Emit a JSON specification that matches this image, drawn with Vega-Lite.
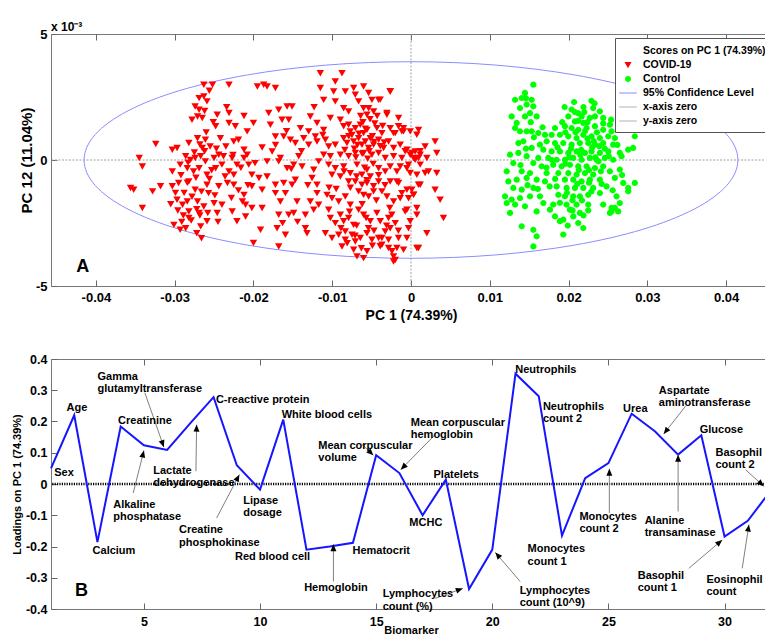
{
"$schema":"https://vega.github.io/schema/vega-lite/v6.json",
"background":"white",
"padding":{"left":10,"top":20,"right":0,"bottom":0},
"spacing":29,
"config":{
 "font":"Liberation Sans",
 "view":{"stroke":"#777","strokeWidth":1},
 "axis":{"labelFont":"Liberation Sans","titleFont":"Liberation Sans","labelFontWeight":"bold","titleFontWeight":"bold","labelColor":"#000","titleColor":"#000","domain":false,"grid":false,"tickColor":"#666","tickWidth":1,"tickSize":-6,"labelOverlap":false,"labelFlush":false,"labelBound":false}
},
"vconcat":[
{
 "width":720,"height":252,
 "title":{"text":"x 10⁻³","anchor":"start","frame":"group","fontSize":12,"fontWeight":"bold","font":"Liberation Sans","color":"#000","offset":-6},
 "data":{"values":[
{"g":"COVID-19","x":-0.0263,"y":2.99},{"g":"COVID-19","x":-0.0252,"y":2.99},{"g":"COVID-19","x":-0.0231,"y":2.99},{"g":"COVID-19","x":-0.0195,"y":2.92},{"g":"COVID-19","x":-0.0187,"y":2.99},{"g":"COVID-19","x":-0.0269,"y":2.46},{"g":"COVID-19","x":-0.0263,"y":2.53},{"g":"COVID-19","x":-0.0259,"y":2.33},{"g":"COVID-19","x":-0.0274,"y":2.13},{"g":"COVID-19","x":-0.0269,"y":2.0},
{"g":"COVID-19","x":-0.0278,"y":1.6},{"g":"COVID-19","x":-0.0271,"y":1.73},{"g":"COVID-19","x":-0.0265,"y":1.67},{"g":"COVID-19","x":-0.0246,"y":1.8},{"g":"COVID-19","x":-0.0231,"y":1.87},{"g":"COVID-19","x":-0.0248,"y":1.34},{"g":"COVID-19","x":-0.0231,"y":1.47},{"g":"COVID-19","x":-0.0223,"y":1.34},{"g":"COVID-19","x":-0.0208,"y":1.14},{"g":"COVID-19","x":-0.02,"y":1.47},
{"g":"COVID-19","x":-0.0324,"y":0.64},{"g":"COVID-19","x":-0.0303,"y":0.41},{"g":"COVID-19","x":-0.0297,"y":0.48},{"g":"COVID-19","x":-0.0282,"y":0.68},{"g":"COVID-19","x":-0.0271,"y":0.87},{"g":"COVID-19","x":-0.0261,"y":0.81},{"g":"COVID-19","x":-0.0265,"y":0.48},{"g":"COVID-19","x":-0.0255,"y":0.54},{"g":"COVID-19","x":-0.0242,"y":0.87},{"g":"COVID-19","x":-0.0235,"y":0.54},
{"g":"COVID-19","x":-0.0225,"y":0.74},{"g":"COVID-19","x":-0.0219,"y":0.81},{"g":"COVID-19","x":-0.0212,"y":0.41},{"g":"COVID-19","x":-0.0208,"y":0.21},{"g":"COVID-19","x":-0.0345,"y":0.08},{"g":"COVID-19","x":-0.0341,"y":-0.25},{"g":"COVID-19","x":-0.0286,"y":0.15},{"g":"COVID-19","x":-0.028,"y":0.01},{"g":"COVID-19","x":-0.0274,"y":0.08},{"g":"COVID-19","x":-0.0267,"y":0.15},
{"g":"COVID-19","x":-0.0261,"y":-0.05},{"g":"COVID-19","x":-0.025,"y":0.08},{"g":"COVID-19","x":-0.0244,"y":0.21},{"g":"COVID-19","x":-0.0238,"y":0.15},{"g":"COVID-19","x":-0.0227,"y":0.08},{"g":"COVID-19","x":-0.0221,"y":-0.18},{"g":"COVID-19","x":-0.0212,"y":0.08},{"g":"COVID-19","x":-0.0206,"y":-0.18},{"g":"COVID-19","x":-0.0198,"y":-0.12},{"g":"COVID-19","x":-0.0303,"y":-0.45},
{"g":"COVID-19","x":-0.0293,"y":-0.18},{"g":"COVID-19","x":-0.0284,"y":-0.32},{"g":"COVID-19","x":-0.0276,"y":-0.45},{"g":"COVID-19","x":-0.0269,"y":-0.32},{"g":"COVID-19","x":-0.0259,"y":-0.58},{"g":"COVID-19","x":-0.0248,"y":-0.32},{"g":"COVID-19","x":-0.024,"y":-0.18},{"g":"COVID-19","x":-0.0231,"y":-0.45},{"g":"COVID-19","x":-0.0225,"y":-0.58},{"g":"COVID-19","x":-0.0202,"y":-0.58},
{"g":"COVID-19","x":-0.0193,"y":-0.71},{"g":"COVID-19","x":-0.0356,"y":-1.11},{"g":"COVID-19","x":-0.0352,"y":-1.18},{"g":"COVID-19","x":-0.0328,"y":-1.24},{"g":"COVID-19","x":-0.0318,"y":-1.04},{"g":"COVID-19","x":-0.0303,"y":-1.04},{"g":"COVID-19","x":-0.0295,"y":-0.91},{"g":"COVID-19","x":-0.0282,"y":-0.85},{"g":"COVID-19","x":-0.0274,"y":-1.18},{"g":"COVID-19","x":-0.0259,"y":-0.98},
{"g":"COVID-19","x":-0.0257,"y":-1.31},{"g":"COVID-19","x":-0.0244,"y":-1.04},{"g":"COVID-19","x":-0.0233,"y":-0.91},{"g":"COVID-19","x":-0.0225,"y":-0.98},{"g":"COVID-19","x":-0.0212,"y":-1.38},{"g":"COVID-19","x":-0.0202,"y":-1.04},{"g":"COVID-19","x":-0.0189,"y":-1.18},{"g":"COVID-19","x":-0.0341,"y":-1.9},{"g":"COVID-19","x":-0.0297,"y":-1.57},{"g":"COVID-19","x":-0.029,"y":-1.77},
{"g":"COVID-19","x":-0.0284,"y":-1.64},{"g":"COVID-19","x":-0.0282,"y":-2.04},{"g":"COVID-19","x":-0.0271,"y":-1.64},{"g":"COVID-19","x":-0.0263,"y":-1.84},{"g":"COVID-19","x":-0.025,"y":-1.71},{"g":"COVID-19","x":-0.024,"y":-1.77},{"g":"COVID-19","x":-0.0227,"y":-2.04},{"g":"COVID-19","x":-0.0214,"y":-1.64},{"g":"COVID-19","x":-0.021,"y":-1.77},{"g":"COVID-19","x":-0.0202,"y":-1.9},
{"g":"COVID-19","x":-0.0189,"y":-1.9},{"g":"COVID-19","x":-0.0301,"y":-2.57},{"g":"COVID-19","x":-0.0293,"y":-2.76},{"g":"COVID-19","x":-0.0282,"y":-2.3},{"g":"COVID-19","x":-0.0269,"y":-2.1},{"g":"COVID-19","x":-0.0267,"y":-2.63},{"g":"COVID-19","x":-0.0259,"y":-2.43},{"g":"COVID-19","x":-0.0246,"y":-2.1},{"g":"COVID-19","x":-0.0221,"y":-2.43},{"g":"COVID-19","x":-0.021,"y":-2.24},
{"g":"COVID-19","x":-0.0191,"y":-2.76},{"g":"COVID-19","x":-0.02,"y":-3.29},{"g":"COVID-19","x":-0.0288,"y":-1.3},{"g":"COVID-19","x":-0.0279,"y":-2.4},{"g":"COVID-19","x":-0.0286,"y":-2.7},{"g":"COVID-19","x":-0.0272,"y":-2.9},{"g":"COVID-19","x":-0.0268,"y":-2.2},{"g":"COVID-19","x":-0.0292,"y":-0.6},{"g":"COVID-19","x":-0.0275,"y":0.3},{"g":"COVID-19","x":-0.0262,"y":0.35},
{"g":"COVID-19","x":-0.0253,"y":-0.4},{"g":"COVID-19","x":-0.0249,"y":-1.4},{"g":"COVID-19","x":-0.0289,"y":-2.2},{"g":"COVID-19","x":-0.0266,"y":-3.1},{"g":"COVID-19","x":-0.0299,"y":-1.3},{"g":"COVID-19","x":-0.0273,"y":-0.7},{"g":"COVID-19","x":-0.026,"y":1.1},{"g":"COVID-19","x":-0.0251,"y":1.5},{"g":"COVID-19","x":-0.0234,"y":2.1},{"g":"COVID-19","x":-0.0226,"y":0.2},
{"g":"COVID-19","x":-0.0216,"y":-0.3},{"g":"COVID-19","x":-0.0207,"y":-1.0},
{"g":"COVID-19","x":-0.01151,"y":3.45},{"g":"COVID-19","x":-0.00876,"y":3.45},{"g":"COVID-19","x":-0.00961,"y":3.12},{"g":"COVID-19","x":-0.01151,"y":2.86},{"g":"COVID-19","x":-0.00982,"y":2.72},{"g":"COVID-19","x":-0.01109,"y":2.39},{"g":"COVID-19","x":-0.00961,"y":2.33},{"g":"COVID-19","x":-0.00834,"y":2.72},{"g":"COVID-19","x":-0.00728,"y":2.86},{"g":"COVID-19","x":-0.00602,"y":2.92},
{"g":"COVID-19","x":-0.00707,"y":2.59},{"g":"COVID-19","x":-0.00538,"y":2.66},{"g":"COVID-19","x":-0.00496,"y":2.39},{"g":"COVID-19","x":-0.00411,"y":2.39},{"g":"COVID-19","x":-0.00264,"y":2.72},{"g":"COVID-19","x":-0.00665,"y":2.33},{"g":"COVID-19","x":-0.00855,"y":2.06},{"g":"COVID-19","x":-0.00792,"y":1.93},{"g":"COVID-19","x":-0.00602,"y":2.06},{"g":"COVID-19","x":-0.00538,"y":2.06},
{"g":"COVID-19","x":-0.00559,"y":1.8},{"g":"COVID-19","x":-0.00475,"y":1.93},{"g":"COVID-19","x":-0.00306,"y":1.87},{"g":"COVID-19","x":-0.00158,"y":1.67},{"g":"COVID-19","x":-0.00095,"y":1.27},{"g":"COVID-19","x":0.00096,"y":1.2},
{"g":"COVID-19","x":-0.01827,"y":2.92},{"g":"COVID-19","x":-0.01721,"y":2.86},{"g":"COVID-19","x":-0.01806,"y":1.87},{"g":"COVID-19","x":-0.01679,"y":2.0},{"g":"COVID-19","x":-0.01573,"y":2.13},{"g":"COVID-19","x":-0.0151,"y":2.13},{"g":"COVID-19","x":-0.01637,"y":1.6},{"g":"COVID-19","x":-0.01785,"y":1.4},{"g":"COVID-19","x":-0.01721,"y":0.94},{"g":"COVID-19","x":-0.01552,"y":1.6},
{"g":"COVID-19","x":-0.01404,"y":1.27},{"g":"COVID-19","x":-0.01299,"y":1.14},{"g":"COVID-19","x":-0.01278,"y":1.73},{"g":"COVID-19","x":-0.01193,"y":1.47},{"g":"COVID-19","x":-0.01214,"y":0.94},{"g":"COVID-19","x":-0.01109,"y":1.2},{"g":"COVID-19","x":-0.01024,"y":1.67},{"g":"COVID-19","x":-0.00897,"y":1.6},{"g":"COVID-19","x":-0.00855,"y":1.34},{"g":"COVID-19","x":-0.00792,"y":1.4},
{"g":"COVID-19","x":-0.00771,"y":1.14},{"g":"COVID-19","x":-0.00707,"y":1.27},{"g":"COVID-19","x":-0.00644,"y":1.4},{"g":"COVID-19","x":-0.00602,"y":1.07},{"g":"COVID-19","x":-0.00559,"y":1.2},{"g":"COVID-19","x":-0.00517,"y":0.87},{"g":"COVID-19","x":-0.00433,"y":1.27},{"g":"COVID-19","x":-0.00369,"y":1.07},{"g":"COVID-19","x":-0.00264,"y":1.27},{"g":"COVID-19","x":-0.002,"y":1.07},
{"g":"COVID-19","x":-0.00116,"y":1.14},{"g":"COVID-19","x":-0.0001,"y":1.14},
{"g":"COVID-19","x":-0.01616,"y":0.94},{"g":"COVID-19","x":-0.01531,"y":0.81},{"g":"COVID-19","x":-0.01468,"y":0.68},{"g":"COVID-19","x":-0.01362,"y":0.87},{"g":"COVID-19","x":-0.01299,"y":0.61},{"g":"COVID-19","x":-0.01193,"y":0.74},{"g":"COVID-19","x":-0.01087,"y":0.81},{"g":"COVID-19","x":-0.01045,"y":0.54},{"g":"COVID-19","x":-0.00961,"y":0.61},{"g":"COVID-19","x":-0.00855,"y":0.87},
{"g":"COVID-19","x":-0.00813,"y":0.68},{"g":"COVID-19","x":-0.00728,"y":0.74},{"g":"COVID-19","x":-0.00665,"y":0.87},{"g":"COVID-19","x":-0.00623,"y":0.61},{"g":"COVID-19","x":-0.0058,"y":0.74},{"g":"COVID-19","x":-0.00538,"y":0.48},{"g":"COVID-19","x":-0.00475,"y":0.61},{"g":"COVID-19","x":-0.00411,"y":0.81},{"g":"COVID-19","x":-0.00348,"y":0.48},{"g":"COVID-19","x":-0.00285,"y":0.74},
{"g":"COVID-19","x":-0.00221,"y":0.48},{"g":"COVID-19","x":-0.00137,"y":0.61},{"g":"COVID-19","x":-0.00052,"y":0.41},{"g":"COVID-19","x":0.00053,"y":0.34},{"g":"COVID-19","x":0.00117,"y":0.21},{"g":"COVID-19","x":-0.0001,"y":0.21},{"g":"COVID-19","x":-0.01763,"y":0.34},{"g":"COVID-19","x":-0.01658,"y":0.08},{"g":"COVID-19","x":-0.01425,"y":0.15},{"g":"COVID-19","x":-0.01109,"y":0.21},
{"g":"COVID-19","x":-0.01024,"y":0.15},{"g":"COVID-19","x":-0.00897,"y":0.21},{"g":"COVID-19","x":-0.00792,"y":0.15},{"g":"COVID-19","x":-0.00707,"y":0.28},{"g":"COVID-19","x":-0.00602,"y":0.28},{"g":"COVID-19","x":-0.00496,"y":0.21},{"g":"COVID-19","x":-0.00411,"y":0.28},{"g":"COVID-19","x":-0.00327,"y":0.08},{"g":"COVID-19","x":-0.00221,"y":0.15},{"g":"COVID-19","x":-0.00116,"y":0.08},
{"g":"COVID-19","x":0.00032,"y":0.08},{"g":"COVID-19","x":0.00117,"y":-0.18},
{"g":"COVID-19","x":-0.01827,"y":-0.05},{"g":"COVID-19","x":-0.01679,"y":-0.05},{"g":"COVID-19","x":-0.01573,"y":-0.32},{"g":"COVID-19","x":-0.01489,"y":-0.18},{"g":"COVID-19","x":-0.01383,"y":-0.25},{"g":"COVID-19","x":-0.01235,"y":-0.38},{"g":"COVID-19","x":-0.01172,"y":-0.05},{"g":"COVID-19","x":-0.01045,"y":-0.18},{"g":"COVID-19","x":-0.00961,"y":-0.32},{"g":"COVID-19","x":-0.00855,"y":-0.25},
{"g":"COVID-19","x":-0.00771,"y":-0.52},{"g":"COVID-19","x":-0.00686,"y":-0.18},{"g":"COVID-19","x":-0.00623,"y":-0.58},{"g":"COVID-19","x":-0.00559,"y":-0.38},{"g":"COVID-19","x":-0.00517,"y":-0.65},{"g":"COVID-19","x":-0.00411,"y":-0.32},{"g":"COVID-19","x":-0.00327,"y":-0.45},{"g":"COVID-19","x":-0.00264,"y":-0.25},{"g":"COVID-19","x":-0.00179,"y":-0.45},{"g":"COVID-19","x":-0.00052,"y":-0.32},
{"g":"COVID-19","x":0.00074,"y":-0.58},{"g":"COVID-19","x":-0.01827,"y":-0.65},{"g":"COVID-19","x":-0.01721,"y":-0.98},{"g":"COVID-19","x":-0.01616,"y":-0.91},{"g":"COVID-19","x":-0.0151,"y":-0.98},{"g":"COVID-19","x":-0.01468,"y":-0.78},{"g":"COVID-19","x":-0.01256,"y":-0.71},{"g":"COVID-19","x":-0.01193,"y":-0.98},{"g":"COVID-19","x":-0.01003,"y":-0.58},{"g":"COVID-19","x":-0.00897,"y":-0.65},
{"g":"COVID-19","x":-0.00792,"y":-0.85},{"g":"COVID-19","x":-0.00707,"y":-0.85},{"g":"COVID-19","x":-0.00623,"y":-0.98},{"g":"COVID-19","x":-0.00559,"y":-0.91},{"g":"COVID-19","x":-0.00475,"y":-1.04},{"g":"COVID-19","x":-0.00411,"y":-0.85},{"g":"COVID-19","x":-0.00264,"y":-0.85},{"g":"COVID-19","x":-0.00158,"y":-0.91},{"g":"COVID-19","x":-0.00052,"y":-1.18},{"g":"COVID-19","x":0.00032,"y":-1.38},
{"g":"COVID-19","x":0.00117,"y":-0.98},{"g":"COVID-19","x":-0.01721,"y":-1.31},{"g":"COVID-19","x":-0.01594,"y":-1.31},{"g":"COVID-19","x":-0.01447,"y":-1.64},{"g":"COVID-19","x":-0.01278,"y":-1.64},{"g":"COVID-19","x":-0.01193,"y":-1.31},{"g":"COVID-19","x":-0.01066,"y":-1.38},{"g":"COVID-19","x":-0.01003,"y":-1.51},{"g":"COVID-19","x":-0.00918,"y":-1.64},{"g":"COVID-19","x":-0.00834,"y":-1.44},
{"g":"COVID-19","x":-0.00771,"y":-1.77},{"g":"COVID-19","x":-0.00665,"y":-1.24},{"g":"COVID-19","x":-0.00602,"y":-1.38},{"g":"COVID-19","x":-0.00538,"y":-1.44},{"g":"COVID-19","x":-0.00475,"y":-1.24},{"g":"COVID-19","x":-0.00369,"y":-1.24},{"g":"COVID-19","x":-0.00306,"y":-1.44},{"g":"COVID-19","x":-0.00221,"y":-1.64},{"g":"COVID-19","x":-0.00116,"y":-1.31},{"g":"COVID-19","x":-0.00031,"y":-1.51},
{"g":"COVID-19","x":-0.01658,"y":-1.64},{"g":"COVID-19","x":-0.01679,"y":-2.17},{"g":"COVID-19","x":-0.01552,"y":-2.17},{"g":"COVID-19","x":-0.01489,"y":-2.1},{"g":"COVID-19","x":-0.01341,"y":-2.17},{"g":"COVID-19","x":-0.01235,"y":-1.97},{"g":"COVID-19","x":-0.01172,"y":-1.77},{"g":"COVID-19","x":-0.01045,"y":-1.97},{"g":"COVID-19","x":-0.01024,"y":-2.3},{"g":"COVID-19","x":-0.00961,"y":-2.5},
{"g":"COVID-19","x":-0.00897,"y":-2.17},{"g":"COVID-19","x":-0.00855,"y":-2.43},{"g":"COVID-19","x":-0.00792,"y":-2.3},{"g":"COVID-19","x":-0.00728,"y":-2.57},{"g":"COVID-19","x":-0.00665,"y":-1.97},{"g":"COVID-19","x":-0.00602,"y":-2.17},{"g":"COVID-19","x":-0.00517,"y":-2.43},{"g":"COVID-19","x":-0.00433,"y":-2.1},{"g":"COVID-19","x":-0.0039,"y":-2.43},{"g":"COVID-19","x":-0.00285,"y":-2.3},
{"g":"COVID-19","x":-0.002,"y":-2.5},{"g":"COVID-19","x":-0.00052,"y":-1.97},{"g":"COVID-19","x":-0.0001,"y":-2.43},{"g":"COVID-19","x":0.00074,"y":-2.17},
{"g":"COVID-19","x":-0.017,"y":-2.7},{"g":"COVID-19","x":-0.01341,"y":-2.7},{"g":"COVID-19","x":-0.0132,"y":-2.9},{"g":"COVID-19","x":-0.01087,"y":-2.9},{"g":"COVID-19","x":-0.01003,"y":-3.09},{"g":"COVID-19","x":-0.00918,"y":-2.96},{"g":"COVID-19","x":-0.00834,"y":-3.16},{"g":"COVID-19","x":-0.00749,"y":-2.96},{"g":"COVID-19","x":-0.00707,"y":-3.23},{"g":"COVID-19","x":-0.00644,"y":-3.09},
{"g":"COVID-19","x":-0.00559,"y":-2.9},{"g":"COVID-19","x":-0.00496,"y":-3.16},{"g":"COVID-19","x":-0.00411,"y":-3.09},{"g":"COVID-19","x":-0.00369,"y":-3.36},{"g":"COVID-19","x":-0.00285,"y":-3.16},{"g":"COVID-19","x":-0.00242,"y":-3.62},{"g":"COVID-19","x":-0.00179,"y":-3.49},{"g":"COVID-19","x":-0.00095,"y":-3.56},{"g":"COVID-19","x":0.00074,"y":-3.49},{"g":"COVID-19","x":-0.00686,"y":-3.82},
{"g":"COVID-19","x":-0.00602,"y":-3.89},{"g":"COVID-19","x":-0.002,"y":-3.96},{"g":"COVID-19","x":-0.00876,"y":-3.43},{"g":"COVID-19","x":-0.00728,"y":-3.56},{"g":"COVID-19","x":-0.00559,"y":-3.62},{"g":"COVID-19","x":-0.01594,"y":-2.96},{"g":"COVID-19","x":-0.01679,"y":-3.43},{"g":"COVID-19","x":-0.00052,"y":-3.09},{"g":"COVID-19","x":-0.00834,"y":-2.83},
{"g":"COVID-19","x":-0.00264,"y":2.73},{"g":"COVID-19","x":-0.00391,"y":2.4},{"g":"COVID-19","x":-0.00306,"y":1.8},{"g":"COVID-19","x":-0.00159,"y":1.34},{"g":"COVID-19","x":-0.00095,"y":1.14},{"g":"COVID-19","x":-0.00222,"y":1.07},{"g":"COVID-19","x":0.00074,"y":1.01},{"g":"COVID-19","x":0.00306,"y":0.74},{"g":"COVID-19","x":0.00179,"y":0.54},{"g":"COVID-19","x":-0.00074,"y":0.35},
{"g":"COVID-19","x":0.0001,"y":0.28},{"g":"COVID-19","x":0.00116,"y":0.35},{"g":"COVID-19","x":0.00327,"y":0.28},{"g":"COVID-19","x":0.00201,"y":0.08},{"g":"COVID-19","x":0.00053,"y":0.01},{"g":"COVID-19","x":-0.00032,"y":-0.18},{"g":"COVID-19","x":-0.00137,"y":-0.25},{"g":"COVID-19","x":0.00095,"y":0.08},{"g":"COVID-19","x":0.00222,"y":-0.45},{"g":"COVID-19","x":0.00179,"y":-0.51},
{"g":"COVID-19","x":0.00327,"y":-0.51},{"g":"COVID-19","x":-0.00011,"y":-0.51},{"g":"COVID-19","x":-0.0018,"y":-0.85},{"g":"COVID-19","x":0.00095,"y":-0.98},{"g":"COVID-19","x":0.00032,"y":-1.37},{"g":"COVID-19","x":0.00306,"y":-1.18},{"g":"COVID-19","x":0.0037,"y":-1.57},{"g":"COVID-19","x":0.00412,"y":-2.3},{"g":"COVID-19","x":0.00074,"y":-1.9},{"g":"COVID-19","x":-0.00074,"y":-2.04},
{"g":"COVID-19","x":-0.00243,"y":-2.17},{"g":"COVID-19","x":-0.00032,"y":-2.7},{"g":"COVID-19","x":0.00201,"y":-2.9},{"g":"COVID-19","x":0.00095,"y":-3.49},{"g":"COVID-19","x":-0.0037,"y":-3.09},{"g":"COVID-19","x":-0.00285,"y":-3.49},{"g":"COVID-19","x":-0.00222,"y":-3.82},{"g":"COVID-19","x":-0.00222,"y":-4.02},{"g":"COVID-19","x":-0.00391,"y":-3.42},{"g":"COVID-19","x":-0.00327,"y":-2.83},
{"g":"COVID-19","x":-0.00159,"y":-3.09},{"g":"COVID-19","x":-0.00264,"y":-2.7},{"g":"COVID-19","x":-0.00137,"y":-1.51},{"g":"COVID-19","x":0.0001,"y":-1.18},
{"g":"COVID-19","x":-0.0075,"y":1.0},{"g":"COVID-19","x":-0.0068,"y":0.6},{"g":"COVID-19","x":-0.0061,"y":1.5},{"g":"COVID-19","x":-0.0053,"y":0.35},{"g":"COVID-19","x":-0.0046,"y":1.45},{"g":"COVID-19","x":-0.007,"y":0.1},{"g":"COVID-19","x":-0.0059,"y":-0.3},{"g":"COVID-19","x":-0.0049,"y":0.95},{"g":"COVID-19","x":-0.0064,"y":1.75},{"g":"COVID-19","x":-0.0056,"y":-0.8},
{"g":"COVID-19","x":-0.0044,"y":-1.6},{"g":"COVID-19","x":-0.0069,"y":-2.6},{"g":"COVID-19","x":-0.0054,"y":-2.7},{"g":"COVID-19","x":-0.0081,"y":-3.3},{"g":"COVID-19","x":-0.0063,"y":-3.5},{"g":"COVID-19","x":-0.0047,"y":-2.8},{"g":"COVID-19","x":-0.0034,"y":0.7},{"g":"COVID-19","x":-0.0084,"y":0.4},{"g":"COVID-19","x":-0.0077,"y":-1.1},{"g":"COVID-19","x":-0.0031,"y":-2.6},
{"g":"COVID-19","x":-0.0058,"y":1.25},{"g":"COVID-19","x":-0.0052,"y":1.62},{"g":"COVID-19","x":-0.0047,"y":0.72},{"g":"COVID-19","x":-0.0066,"y":1.05},{"g":"COVID-19","x":-0.0072,"y":0.45},{"g":"COVID-19","x":-0.0039,"y":0.55},{"g":"COVID-19","x":-0.0043,"y":1.75},{"g":"COVID-19","x":-0.0079,"y":0.95},{"g":"COVID-19","x":-0.0055,"y":0.05},{"g":"COVID-19","x":-0.0036,"y":1.35},
{"g":"COVID-19","x":-0.0062,"y":0.25},{"g":"COVID-19","x":-0.0048,"y":-0.15},{"g":"COVID-19","x":-0.0085,"y":-0.45},{"g":"COVID-19","x":-0.0069,"y":-0.65},{"g":"COVID-19","x":-0.0041,"y":-0.6},{"g":"COVID-19","x":-0.0033,"y":-1.0},{"g":"COVID-19","x":-0.0062,"y":-1.75},{"g":"COVID-19","x":-0.0078,"y":-2.05},{"g":"COVID-19","x":-0.0057,"y":-2.3},{"g":"COVID-19","x":-0.0049,"y":-3.4},
{"g":"COVID-19","x":-0.0071,"y":-3.0},{"g":"COVID-19","x":-0.0089,"y":-2.7},{"g":"COVID-19","x":-0.0027,"y":-1.9},{"g":"COVID-19","x":-0.0016,"y":-2.8},{"g":"COVID-19","x":-0.0095,"y":-1.15},
{"g":"COVID-19","x":-0.0284,"y":-0.9},{"g":"COVID-19","x":-0.0278,"y":-1.45},{"g":"COVID-19","x":-0.0266,"y":-1.25},{"g":"COVID-19","x":-0.0256,"y":-0.75},{"g":"COVID-19","x":-0.0272,"y":-1.95},{"g":"COVID-19","x":-0.0291,"y":-2.45},{"g":"COVID-19","x":-0.0258,"y":-2.1},{"g":"COVID-19","x":-0.0245,"y":-2.45},{"g":"COVID-19","x":-0.0283,"y":-0.1},{"g":"COVID-19","x":-0.0268,"y":0.62},
{"g":"COVID-19","x":-0.0247,"y":0.45},{"g":"COVID-19","x":-0.0236,"y":-0.65},{"g":"COVID-19","x":-0.0219,"y":-1.2},{"g":"COVID-19","x":-0.0228,"y":-1.5},{"g":"COVID-19","x":-0.0296,"y":-2.0},{"g":"COVID-19","x":-0.0305,"y":-1.75},{"g":"COVID-19","x":-0.0262,"y":1.95},{"g":"COVID-19","x":-0.0256,"y":2.75},{"g":"COVID-19","x":-0.0212,"y":1.75},{"g":"COVID-19","x":-0.0189,"y":0.5},
{"g":"COVID-19","x":-0.0152,"y":-0.35},{"g":"COVID-19","x":-0.0139,"y":0.35},{"g":"COVID-19","x":-0.0131,"y":-1.0},{"g":"COVID-19","x":-0.0163,"y":-2.5},{"g":"COVID-19","x":-0.0144,"y":-2.45},{"g":"COVID-19","x":-0.0112,"y":1.0},{"g":"COVID-19","x":-0.0123,"y":2.1},{"g":"COVID-19","x":-0.0104,"y":-1.1},{"g":"COVID-19","x":-0.0172,"y":0.6},{"g":"COVID-19","x":-0.0158,"y":1.15},
{"g":"Control","x":0.01553,"y":2.99},{"g":"Control","x":0.01447,"y":2.66},{"g":"Control","x":0.01321,"y":2.39},{"g":"Control","x":0.01405,"y":2.46},{"g":"Control","x":0.01532,"y":2.39},{"g":"Control","x":0.01468,"y":2.2},{"g":"Control","x":0.01553,"y":2.13},{"g":"Control","x":0.01384,"y":2.06},{"g":"Control","x":0.01511,"y":1.86},{"g":"Control","x":0.01447,"y":1.73},
{"g":"Control","x":0.01595,"y":1.73},{"g":"Control","x":0.01278,"y":1.73},{"g":"Control","x":0.01342,"y":1.47},{"g":"Control","x":0.01321,"y":1.27},{"g":"Control","x":0.01384,"y":1.14},{"g":"Control","x":0.01468,"y":1.14},{"g":"Control","x":0.01532,"y":1.14},{"g":"Control","x":0.01616,"y":1.07},{"g":"Control","x":0.01701,"y":1.0},{"g":"Control","x":0.01426,"y":0.74},
{"g":"Control","x":0.01363,"y":0.67},{"g":"Control","x":0.02039,"y":2.0},{"g":"Control","x":0.02313,"y":2.06},{"g":"Control","x":0.02123,"y":1.86},{"g":"Control","x":0.02398,"y":1.93},{"g":"Control","x":0.01997,"y":1.73},{"g":"Control","x":0.02166,"y":1.73},{"g":"Control","x":0.02271,"y":1.67},{"g":"Control","x":0.02335,"y":1.73},{"g":"Control","x":0.0244,"y":1.67},
{"g":"Control","x":0.02081,"y":1.53},{"g":"Control","x":0.02187,"y":1.47},{"g":"Control","x":0.02525,"y":1.4},{"g":"Control","x":0.01828,"y":1.27},{"g":"Control","x":0.01954,"y":1.34},{"g":"Control","x":0.02039,"y":1.27},{"g":"Control","x":0.02123,"y":1.2},{"g":"Control","x":0.02229,"y":1.27},{"g":"Control","x":0.02335,"y":1.34},{"g":"Control","x":0.0244,"y":1.2},
{"g":"Control","x":0.02546,"y":1.14},{"g":"Control","x":0.01785,"y":1.0},{"g":"Control","x":0.01891,"y":1.0},{"g":"Control","x":0.01997,"y":0.94},{"g":"Control","x":0.02102,"y":0.87},{"g":"Control","x":0.02187,"y":1.0},{"g":"Control","x":0.02292,"y":0.94},{"g":"Control","x":0.02398,"y":0.87},{"g":"Control","x":0.02504,"y":0.94},{"g":"Control","x":0.02588,"y":0.87},
{"g":"Control","x":0.01722,"y":0.74},{"g":"Control","x":0.01828,"y":0.67},{"g":"Control","x":0.01933,"y":0.67},{"g":"Control","x":0.02039,"y":0.61},{"g":"Control","x":0.02144,"y":0.67},{"g":"Control","x":0.0225,"y":0.67},{"g":"Control","x":0.02335,"y":0.61},{"g":"Control","x":0.0244,"y":0.67},{"g":"Control","x":0.02567,"y":0.61},{"g":"Control","x":0.01637,"y":0.61},
{"g":"Control","x":0.01532,"y":0.48},{"g":"Control","x":0.02651,"y":0.28},{"g":"Control","x":0.02757,"y":0.41},{"g":"Control","x":0.0168,"y":0.41},{"g":"Control","x":0.01785,"y":0.34},{"g":"Control","x":0.01891,"y":0.34},{"g":"Control","x":0.01997,"y":0.28},{"g":"Control","x":0.02102,"y":0.34},{"g":"Control","x":0.02208,"y":0.28},{"g":"Control","x":0.02292,"y":0.34},
{"g":"Control","x":0.02398,"y":0.28},{"g":"Control","x":0.02504,"y":0.34},{"g":"Control","x":0.02673,"y":0.15},{"g":"Control","x":0.01257,"y":0.21},{"g":"Control","x":0.01363,"y":0.28},{"g":"Control","x":0.01468,"y":0.15},{"g":"Control","x":0.01616,"y":0.08},{"g":"Control","x":0.01743,"y":0.08},{"g":"Control","x":0.01849,"y":0.01},{"g":"Control","x":0.01954,"y":0.01},
{"g":"Control","x":0.0206,"y":0.08},{"g":"Control","x":0.02166,"y":0.01},{"g":"Control","x":0.02271,"y":0.08},{"g":"Control","x":0.02356,"y":0.01},{"g":"Control","x":0.02461,"y":0.08},{"g":"Control","x":0.02567,"y":0.01},{"g":"Control","x":0.01299,"y":-0.12},{"g":"Control","x":0.01553,"y":-0.12},{"g":"Control","x":0.01659,"y":-0.25},{"g":"Control","x":0.01806,"y":-0.19},
{"g":"Control","x":0.01912,"y":-0.25},{"g":"Control","x":0.02018,"y":-0.19},{"g":"Control","x":0.02123,"y":-0.25},{"g":"Control","x":0.02229,"y":-0.25},{"g":"Control","x":0.02335,"y":-0.32},{"g":"Control","x":0.0244,"y":-0.25},{"g":"Control","x":0.01215,"y":-0.45},{"g":"Control","x":0.01405,"y":-0.45},{"g":"Control","x":0.01511,"y":-0.52},{"g":"Control","x":0.01722,"y":-0.52},
{"g":"Control","x":0.0187,"y":-0.52},{"g":"Control","x":0.01997,"y":-0.52},{"g":"Control","x":0.02102,"y":-0.58},{"g":"Control","x":0.02208,"y":-0.52},{"g":"Control","x":0.02313,"y":-0.58},{"g":"Control","x":0.02525,"y":-0.45},{"g":"Control","x":0.02651,"y":-0.38},{"g":"Control","x":0.01236,"y":-0.85},{"g":"Control","x":0.01342,"y":-0.78},{"g":"Control","x":0.01468,"y":-0.71},
{"g":"Control","x":0.01595,"y":-0.78},{"g":"Control","x":0.01701,"y":-0.85},{"g":"Control","x":0.01954,"y":-0.78},{"g":"Control","x":0.0206,"y":-0.78},{"g":"Control","x":0.02166,"y":-0.85},{"g":"Control","x":0.02271,"y":-0.78},{"g":"Control","x":0.02398,"y":-0.78},{"g":"Control","x":0.02588,"y":-0.71},{"g":"Control","x":0.01299,"y":-1.11},{"g":"Control","x":0.01405,"y":-1.18},
{"g":"Control","x":0.01553,"y":-1.11},{"g":"Control","x":0.01849,"y":-1.05},{"g":"Control","x":0.01975,"y":-1.11},{"g":"Control","x":0.02081,"y":-1.11},{"g":"Control","x":0.02187,"y":-1.11},{"g":"Control","x":0.02313,"y":-1.11},{"g":"Control","x":0.02482,"y":-1.05},{"g":"Control","x":0.02694,"y":-0.91},{"g":"Control","x":0.02757,"y":-1.11},{"g":"Control","x":0.01194,"y":-1.44},
{"g":"Control","x":0.01278,"y":-1.57},{"g":"Control","x":0.01384,"y":-1.51},{"g":"Control","x":0.01511,"y":-1.44},{"g":"Control","x":0.01637,"y":-1.44},{"g":"Control","x":0.0187,"y":-1.38},{"g":"Control","x":0.01954,"y":-1.44},{"g":"Control","x":0.0206,"y":-1.44},{"g":"Control","x":0.02144,"y":-1.44},{"g":"Control","x":0.0225,"y":-1.38},{"g":"Control","x":0.02398,"y":-1.31},
{"g":"Control","x":0.02609,"y":-1.44},{"g":"Control","x":0.01215,"y":-1.71},{"g":"Control","x":0.01321,"y":-1.77},{"g":"Control","x":0.01447,"y":-1.84},{"g":"Control","x":0.0168,"y":-1.71},{"g":"Control","x":0.01806,"y":-1.77},{"g":"Control","x":0.01975,"y":-1.77},{"g":"Control","x":0.02102,"y":-1.77},{"g":"Control","x":0.0225,"y":-1.77},{"g":"Control","x":0.0244,"y":-1.77},
{"g":"Control","x":0.02651,"y":-1.71},{"g":"Control","x":0.01257,"y":-2.1},{"g":"Control","x":0.01595,"y":-2.04},{"g":"Control","x":0.01764,"y":-1.97},{"g":"Control","x":0.02018,"y":-1.97},{"g":"Control","x":0.02144,"y":-2.1},{"g":"Control","x":0.02546,"y":-1.9},{"g":"Control","x":0.0263,"y":-2.04},{"g":"Control","x":0.01828,"y":-2.24},{"g":"Control","x":0.01933,"y":-2.37},
{"g":"Control","x":0.0206,"y":-2.24},{"g":"Control","x":0.01891,"y":-2.43},{"g":"Control","x":0.01405,"y":-2.63},{"g":"Control","x":0.01553,"y":-2.77},{"g":"Control","x":0.01595,"y":-3.03},{"g":"Control","x":0.01933,"y":-2.96},{"g":"Control","x":0.02123,"y":-2.5},{"g":"Control","x":0.02187,"y":-2.7},{"g":"Control","x":0.01553,"y":-3.43},{"g":"Control","x":0.02525,"y":-2.1},
{"g":"Control","x":0.02841,"y":0.94},{"g":"Control","x":0.0282,"y":0.48},{"g":"Control","x":0.02841,"y":-0.91},{"g":"Control","x":0.02757,"y":-1.24},{"g":"Control","x":0.02545,"y":-2.04},{"g":"Control","x":0.02588,"y":-1.9},
{"g":"Control","x":0.0209,"y":1.1},{"g":"Control","x":0.0216,"y":0.4},{"g":"Control","x":0.0224,"y":1.5},{"g":"Control","x":0.023,"y":0.5},{"g":"Control","x":0.0201,"y":0.1},{"g":"Control","x":0.0213,"y":-0.4},{"g":"Control","x":0.0226,"y":-0.9},{"g":"Control","x":0.0205,"y":-1.6},{"g":"Control","x":0.0219,"y":-2.2},{"g":"Control","x":0.0192,"y":1.5},
{"g":"Control","x":0.0246,"y":0.45},{"g":"Control","x":0.0236,"y":1.1},{"g":"Control","x":0.022,"y":1.9},{"g":"Control","x":0.0196,"y":-0.15},{"g":"Control","x":0.0241,"y":-0.45},{"g":"Control","x":0.0207,"y":2.3},{"g":"Control","x":0.0229,"y":2.35},{"g":"Control","x":0.0254,"y":1.6},{"g":"Control","x":0.0176,"y":-1.05},{"g":"Control","x":0.0189,"y":-1.7},
{"g":"Control","x":0.0212,"y":1.55},{"g":"Control","x":0.0221,"y":1.15},{"g":"Control","x":0.0232,"y":0.75},{"g":"Control","x":0.0203,"y":0.45},{"g":"Control","x":0.0215,"y":0.2},{"g":"Control","x":0.0238,"y":-0.05},{"g":"Control","x":0.0226,"y":-0.4},{"g":"Control","x":0.0211,"y":-0.95},{"g":"Control","x":0.0198,"y":-1.3},{"g":"Control","x":0.0217,"y":-1.6},
{"g":"Control","x":0.0229,"y":-1.25},{"g":"Control","x":0.0242,"y":-0.95},{"g":"Control","x":0.0251,"y":0.15},{"g":"Control","x":0.0244,"y":1.45},{"g":"Control","x":0.0233,"y":2.25},{"g":"Control","x":0.0219,"y":2.1},{"g":"Control","x":0.0196,"y":1.1},{"g":"Control","x":0.0186,"y":0.5},{"g":"Control","x":0.0179,"y":0.0},{"g":"Control","x":0.0183,"y":-0.75},
{"g":"Control","x":0.0205,"y":-2.0},{"g":"Control","x":0.0199,"y":-2.6},{"g":"Control","x":0.0225,"y":-2.0},{"g":"Control","x":0.0172,"y":-0.3},{"g":"Control","x":0.0161,"y":-1.15},{"g":"Control","x":0.0148,"y":-1.0},{"g":"Control","x":0.0139,"y":-0.2},{"g":"Control","x":0.0146,"y":0.45},{"g":"Control","x":0.0156,"y":0.9},{"g":"Control","x":0.0167,"y":1.3},
{"g":"Control","x":0.0146,"y":2.45},{"g":"Control","x":0.0152,"y":1.5},{"g":"Control","x":0.0262,"y":0.6},{"g":"Control","x":0.0268,"y":-0.6},{"g":"Control","x":0.0256,"y":-1.2},{"g":"Control","x":0.0234,"y":0.1},{"g":"Control","x":0.0208,"y":1.9},{"g":"Control","x":0.0195,"y":2.1},{"g":"Control","x":0.0239,"y":0.55},{"g":"Control","x":0.0224,"y":0.85}
 ]},
 "resolve":{"axis":{"x":"independent","y":"independent"}},
 "layer":[
  {"data":{"values":[{"zero":0}]},
   "mark":{"type":"rule","color":"#a0a0a0","strokeWidth":1,"strokeDash":[2,1.5]},
   "encoding":{"y":{"field":"zero","type":"quantitative","scale":{"domain":[-5,5],"nice":false,"zero":false},
     "axis":{"orient":"left","values":[-5,0,5],"labelExpr":"(datum.value<0?'-':'')+format(abs(datum.value),'d')","labelFontSize":13,"labelPadding":10,"title":"PC 12 (11.04%)","titleFontSize":15,"titlePadding":1}}}},
  {"data":{"values":[{"zero":0}]},
   "mark":{"type":"rule","color":"#a0a0a0","strokeWidth":1,"strokeDash":[2,1.5]},
   "encoding":{"x":{"field":"zero","type":"quantitative","scale":{"domain":[-0.0457,0.0457],"nice":false,"zero":false},
     "axis":{"orient":"bottom","values":[-0.04,-0.03,-0.02,-0.01,0,0.01,0.02,0.03,0.04],"labelExpr":"datum.value==0?'0':(datum.value<0?'-':'')+format(abs(datum.value),'.2f')","labelFontSize":13,"labelPadding":11,"title":"PC 1 (74.39%)","titleFontSize":14,"titlePadding":4}}}},
  {"data":{"values":[
{"i":0,"x":0.0415,"y":0},{"i":1,"x":0.04009,"y":1.009},{"i":2,"x":0.03594,"y":1.95},{"i":3,"x":0.02935,"y":2.758},{"i":4,"x":0.02075,"y":3.377},{"i":5,"x":0.01074,"y":3.767},{"i":6,"x":0,"y":3.9},{"i":7,"x":-0.01074,"y":3.767},{"i":8,"x":-0.02075,"y":3.377},{"i":9,"x":-0.02935,"y":2.758},{"i":10,"x":-0.03594,"y":1.95},{"i":11,"x":-0.04009,"y":1.009},
{"i":12,"x":-0.0415,"y":0},{"i":13,"x":-0.04009,"y":-1.009},{"i":14,"x":-0.03594,"y":-1.95},{"i":15,"x":-0.02935,"y":-2.758},{"i":16,"x":-0.02075,"y":-3.377},{"i":17,"x":-0.01074,"y":-3.767},{"i":18,"x":0,"y":-3.9},{"i":19,"x":0.01074,"y":-3.767},{"i":20,"x":0.02075,"y":-3.377},{"i":21,"x":0.02935,"y":-2.758},{"i":22,"x":0.03594,"y":-1.95},{"i":23,"x":0.04009,"y":-1.009}
   ]},
   "mark":{"type":"line","interpolate":"cardinal-closed","color":"#8c8cff","strokeWidth":1},
   "encoding":{
    "x":{"field":"x","type":"quantitative","scale":{"domain":[-0.0457,0.0457],"nice":false,"zero":false},"axis":{"orient":"top","values":[-0.04,-0.03,-0.02,-0.01,0,0.01,0.02,0.03,0.04],"labels":false,"title":null}},
    "y":{"field":"y","type":"quantitative","scale":{"domain":[-5,5],"nice":false,"zero":false},"axis":{"orient":"right","values":[-5,0,5],"labels":false,"title":null}},
    "order":{"field":"i","type":"quantitative"}}},
  {"mark":{"type":"point","filled":true,"opacity":1,"strokeWidth":1,"size":220},
   "encoding":{
    "x":{"field":"x","type":"quantitative","scale":{"domain":[-0.0457,0.0457],"nice":false,"zero":false},"axis":null},
    "y":{"field":"y","type":"quantitative","scale":{"domain":[-5,5],"nice":false,"zero":false},"axis":null},
    "color":{"field":"g","type":"nominal",
      "scale":{"domain":["Scores on PC 1 (74.39%)","COVID-19","Control","95% Confidence Level","x-axis zero","y-axis zero"],"range":["transparent","#ff0000","#00ff00","transparent","transparent","transparent"]},
      "legend":{"orient":"none","legendX":564,"legendY":4,"title":null,"fillColor":"#ffffff","strokeColor":"#555555","padding":5,"labelFont":"Liberation Sans","labelFontSize":10.5,"labelFontWeight":"bold","labelColor":"#000","labelLimit":400,"labelOffset":7,"symbolSize":200,"symbolStrokeWidth":1,"symbolOpacity":1,"rowPadding":0}},
    "stroke":{"field":"g","type":"nominal",
      "scale":{"domain":["Scores on PC 1 (74.39%)","COVID-19","Control","95% Confidence Level","x-axis zero","y-axis zero"],"range":["transparent","transparent","transparent","#8c8cff","#b0b0b0","#b0b0b0"]},
      "legend":{"orient":"none","legendX":564,"legendY":4,"title":null,"fillColor":"#ffffff","strokeColor":"#555555","padding":5,"labelFont":"Liberation Sans","labelFontSize":10.5,"labelFontWeight":"bold","labelColor":"#000","labelLimit":400,"labelOffset":7,"symbolSize":200,"symbolStrokeWidth":1,"symbolOpacity":1,"rowPadding":0}},
    "shape":{"field":"g","type":"nominal",
      "scale":{"domain":["Scores on PC 1 (74.39%)","COVID-19","Control","95% Confidence Level","x-axis zero","y-axis zero"],"range":["M0,0","M-0.5,-0.42L0.5,-0.42L0,0.45Z","M-0.42,0A0.42,0.42,0,1,0,0.42,0A0.42,0.42,0,1,0,-0.42,0Z","M-1.25,0L1.25,0","M-1.25,0L1.25,0","M-1.25,0L1.25,0"]},
      "legend":{"orient":"none","legendX":564,"legendY":4,"title":null,"fillColor":"#ffffff","strokeColor":"#555555","padding":5,"labelFont":"Liberation Sans","labelFontSize":10.5,"labelFontWeight":"bold","labelColor":"#000","labelLimit":400,"labelOffset":7,"symbolSize":200,"symbolStrokeWidth":1,"symbolOpacity":1,"rowPadding":0}}}},
  {"data":{"values":[{"lab":"A","x":-0.0425,"y":-4.25}]},
   "mark":{"type":"text","align":"left","baseline":"middle","font":"Liberation Sans","fontWeight":"bold","fontSize":18,"color":"#000"},
   "encoding":{
    "x":{"field":"x","type":"quantitative","scale":{"domain":[-0.0457,0.0457],"nice":false,"zero":false},"axis":null},
    "y":{"field":"y","type":"quantitative","scale":{"domain":[-5,5],"nice":false,"zero":false},"axis":null},
    "text":{"field":"lab"}}}
 ]
},
{
 "width":720,"height":250,
 "resolve":{"axis":{"x":"independent","y":"independent"}},
 "layer":[
  {"data":{"values":[{"zero":0}]},
   "mark":{"type":"rule","color":"#000","strokeWidth":2.5,"strokeDash":[1.2,1.2]},
   "encoding":{"y":{"field":"zero","type":"quantitative","scale":{"domain":[-0.4,0.4],"nice":false,"zero":false},
     "axis":{"orient":"left","values":[-0.4,-0.3,-0.2,-0.1,0,0.1,0.2,0.3,0.4],"labelExpr":"datum.value==0?'0':(datum.value<0?'-':'')+format(abs(datum.value),'.1f')","labelFontSize":12.5,"labelPadding":10,"title":"Loadings on PC 1 (74.39%)","titleFontSize":11,"titlePadding":3}}}},
  {"data":{"values":[
{"b":1,"v":0.05},{"b":2,"v":0.22},{"b":3,"v":-0.186},{"b":4,"v":0.184},{"b":5,"v":0.124},{"b":6,"v":0.109},{"b":7,"v":0.195},{"b":8,"v":0.278},{"b":9,"v":0.06},{"b":10,"v":-0.018},{"b":11,"v":0.206},{"b":12,"v":-0.21},{"b":13,"v":-0.2},{"b":14,"v":-0.188},{"b":15,"v":0.092},{"b":16,"v":0.035},
{"b":17,"v":-0.1},{"b":18,"v":0.014},{"b":19,"v":-0.336},{"b":20,"v":-0.21},{"b":21,"v":0.353},{"b":22,"v":0.281},{"b":23,"v":-0.165},{"b":24,"v":0.019},{"b":25,"v":0.067},{"b":26,"v":0.225},{"b":27,"v":0.169},{"b":28,"v":0.094},{"b":29,"v":0.156},{"b":30,"v":-0.168},{"b":31,"v":-0.118},{"b":32,"v":-0.02}
   ]},
   "mark":{"type":"line","color":"#1515ff","strokeWidth":2},
   "encoding":{
    "x":{"field":"b","type":"quantitative","scale":{"domain":[1,32],"nice":false,"zero":false},"axis":{"orient":"bottom","values":[5,10,15,20,25,30],"format":"d","labelFontSize":12.5,"labelPadding":12,"title":"Biomarker","titleFontSize":11,"titlePadding":-3}},
    "y":{"field":"v","type":"quantitative","scale":{"domain":[-0.4,0.4],"nice":false,"zero":false},"axis":{"orient":"right","values":[-0.4,-0.3,-0.2,-0.1,0,0.1,0.2,0.3,0.4],"labels":false,"title":null}}}},
  {"data":{"name":"arrows","values":[
{"x":5.04,"y":0.292,"x2":5.86,"y2":0.118,"a":160.7},{"x":4.54,"y":-0.029,"x2":5.0,"y2":0.107,"a":14.1},{"x":7.24,"y":0.041,"x2":7.27,"y2":0.19,"a":1},{"x":8.13,"y":-0.109,"x2":9.11,"y2":0.03,"a":27.6},{"x":13.16,"y":-0.312,"x2":13.16,"y2":-0.193,"a":0},
{"x":14.38,"y":0.128,"x2":14.88,"y2":0.092,"a":134.2},{"x":17.54,"y":0.158,"x2":16.06,"y2":0.046,"a":224.5},{"x":17.54,"y":-0.366,"x2":18.73,"y2":-0.334,"a":70.1},{"x":21.2,"y":-0.312,"x2":20.13,"y2":-0.219,"a":319.2},{"x":25.04,"y":-0.093,"x2":25.04,"y2":0.049,"a":0},
{"x":28.32,"y":0.249,"x2":27.38,"y2":0.16,"a":218.1},{"x":28.0,"y":-0.088,"x2":28.0,"y2":0.094,"a":0},{"x":28.46,"y":-0.27,"x2":29.9,"y2":-0.179,"a":49.6},{"x":30.76,"y":-0.27,"x2":31.05,"y2":-0.13,"a":8.7},{"x":30.9,"y":0.046,"x2":31.69,"y2":-0.007,"a":132.3}
   ]},
   "mark":{"type":"rule","color":"#808080","strokeWidth":1},
   "encoding":{
    "x":{"field":"x","type":"quantitative","scale":{"domain":[1,32],"nice":false,"zero":false},"axis":{"orient":"top","values":[5,10,15,20,25,30],"labels":false,"title":null}},
    "y":{"field":"y","type":"quantitative","scale":{"domain":[-0.4,0.4],"nice":false,"zero":false},"axis":null},
    "x2":{"field":"x2"},"y2":{"field":"y2"}}},
  {"data":{"name":"arrows"},
   "mark":{"type":"point","shape":"M0,0L-0.85,2L0.85,2Z","filled":true,"color":"#000","opacity":1,"size":49,"strokeWidth":0},
   "encoding":{
    "x":{"field":"x2","type":"quantitative","scale":{"domain":[1,32],"nice":false,"zero":false},"axis":null},
    "y":{"field":"y2","type":"quantitative","scale":{"domain":[-0.4,0.4],"nice":false,"zero":false},"axis":null},
    "angle":{"field":"a","type":"quantitative","scale":null}}},
  {"data":{"values":[
{"t":"Sex","x":1.14,"y":0.035},{"t":"Age","x":1.67,"y":0.242},{"t":"Calcium","x":2.79,"y":-0.214},{"t":"Creatinine","x":3.89,"y":0.203},{"t":"Gamma\nglutamyltransferase","x":3.0,"y":0.342},{"t":"Alkaline\nphosphatase","x":3.68,"y":-0.066},{"t":"Lactate\ndehydrogenase","x":5.4,"y":0.043},{"t":"Creatine\nphosphokinase","x":6.51,"y":-0.148},
{"t":"C-reactive protein","x":8.1,"y":0.268},{"t":"White blood cells","x":10.93,"y":0.22},{"t":"Lipase\ndosage","x":9.28,"y":-0.053},{"t":"Red blood cell","x":8.92,"y":-0.233},{"t":"Hemoglobin","x":11.9,"y":-0.334},{"t":"Mean corpuscular\nvolume","x":12.51,"y":0.123},{"t":"Hematocrit","x":13.98,"y":-0.214},
{"t":"Mean corpuscular\nhemoglobin","x":16.49,"y":0.196},{"t":"Platelets","x":17.47,"y":0.028},{"t":"MCHC","x":16.43,"y":-0.124},{"t":"Lymphocytes\ncount (%)","x":15.28,"y":-0.353},{"t":"Neutrophils","x":20.99,"y":0.364},{"t":"Neutrophils\ncount 2","x":22.18,"y":0.248},{"t":"Lymphocytes\ncount (10^9)","x":21.18,"y":-0.342},
{"t":"Monocytes\ncount 1","x":21.52,"y":-0.209},{"t":"Monocytes\ncount 2","x":23.75,"y":-0.105},{"t":"Urea","x":25.63,"y":0.241},{"t":"Aspartate\naminotransferase","x":27.17,"y":0.297},{"t":"Glucose","x":28.93,"y":0.172},{"t":"Alanine\ntransaminase","x":26.56,"y":-0.118},{"t":"Basophil\ncount 2","x":29.61,"y":0.1},{"t":"Basophil\ncount 1","x":26.26,"y":-0.293},{"t":"Eosinophil\ncount","x":29.22,"y":-0.306}
   ]},
   "mark":{"type":"text","align":"left","baseline":"middle","font":"Liberation Sans","fontWeight":"bold","fontSize":11,"lineBreak":"\n","lineHeight":12.3,"color":"#000"},
   "encoding":{
    "x":{"field":"x","type":"quantitative","scale":{"domain":[1,32],"nice":false,"zero":false},"axis":null},
    "y":{"field":"y","type":"quantitative","scale":{"domain":[-0.4,0.4],"nice":false,"zero":false},"axis":null},
    "text":{"field":"t"}}},
  {"data":{"values":[{"lab":"B","x":2.03,"y":-0.343}]},
   "mark":{"type":"text","align":"left","baseline":"middle","font":"Liberation Sans","fontWeight":"bold","fontSize":18,"color":"#000"},
   "encoding":{
    "x":{"field":"x","type":"quantitative","scale":{"domain":[1,32],"nice":false,"zero":false},"axis":null},
    "y":{"field":"y","type":"quantitative","scale":{"domain":[-0.4,0.4],"nice":false,"zero":false},"axis":null},
    "text":{"field":"lab"}}}
 ]
}
]
}
